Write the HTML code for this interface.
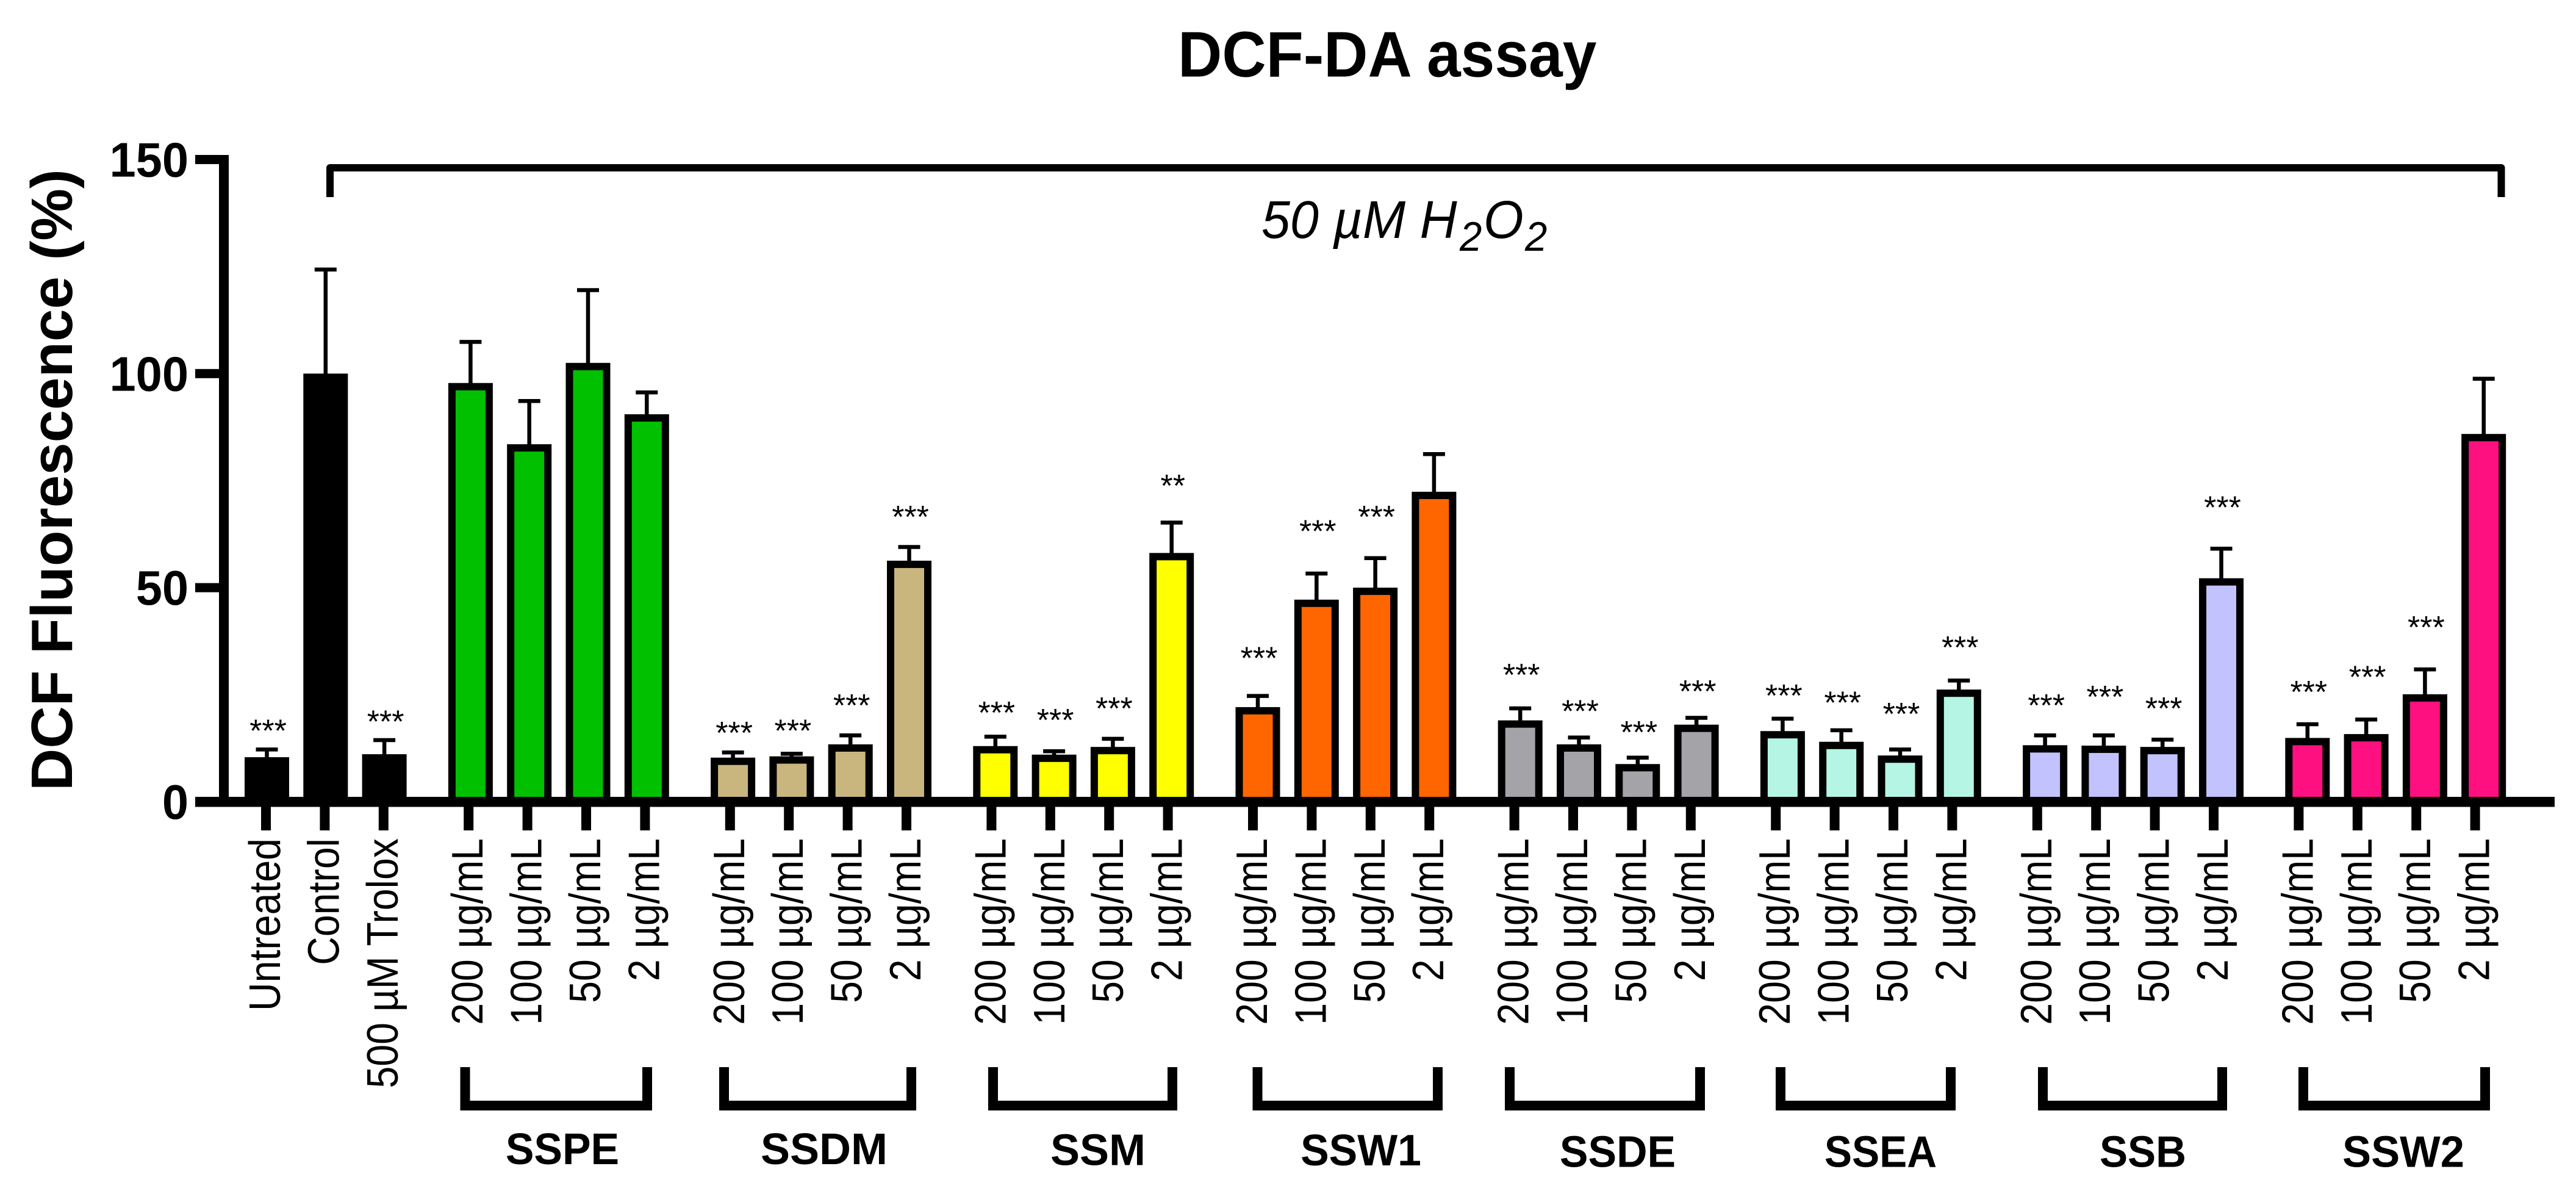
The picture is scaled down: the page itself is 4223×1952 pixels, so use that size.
<!DOCTYPE html>
<html lang="en">
<head>
<meta charset="utf-8">
<title>DCF-DA assay</title>
<style>
html,body{margin:0;padding:0;background:#fff;}
svg{display:block;}
text{font-family:"Liberation Sans",Arial,sans-serif;fill:#000;}
</style>
</head>
<body>
<svg id="chart" xmlns="http://www.w3.org/2000/svg" width="4223" height="1952" viewBox="0 0 4223 1952">
  <rect x="0" y="0" width="4223" height="1952" fill="#fff"/>
  <text transform="translate(1931,125.6) scale(.945,1)" font-size="106" font-weight="700">DCF-DA assay</text>
  <text transform="translate(118,1296) rotate(-90)" font-size="96" font-weight="700">DCF Fluorescence (%)</text>
  <path d="M541,323 V275 H4100.5 V323" fill="none" stroke="#000" stroke-width="12" stroke-linejoin="round"/>
  <g font-style="italic">
    <text transform="translate(2068,390) scale(.97,1)" font-size="87" font-style="italic">50 µM H</text>
    <text transform="translate(2393,411) scale(.96,1)" font-size="68" font-style="italic">2</text>
    <text transform="translate(2432,390) scale(.97,1)" font-size="87" font-style="italic">O</text>
    <text transform="translate(2500,411) scale(.96,1)" font-size="68" font-style="italic">2</text>
  </g>
  <g id="bars"></g>
  <g id="errors"></g>
  <g id="stars"></g>
  <g id="axes"></g>
  <g fill="none" stroke="#000" stroke-width="16">
    <path d="M762.5,1749 V1812 H1061 V1749"/>
    <path d="M1187,1749 V1812 H1494 V1749"/>
    <path d="M1628,1749 V1812 H1922 V1749"/>
    <path d="M2061.5,1749 V1812 H2357 V1749"/>
    <path d="M2475,1749 V1812 H2787 V1749"/>
    <path d="M2919,1749 V1812 H3198 V1749"/>
    <path d="M3349,1749 V1812 H3643 V1749"/>
    <path d="M3776,1749 V1812 H4074 V1749"/>
  </g>
  <g font-size="72" font-weight="700" text-anchor="middle">
    <text transform="translate(922,1908) scale(.97,1)">SSPE</text>
    <text transform="translate(1351,1908) scale(1,1)">SSDM</text>
    <text transform="translate(1800,1909.5) scale(1,1)">SSM</text>
    <text transform="translate(2231,1910) scale(.97,1)">SSW1</text>
    <text transform="translate(2652,1912.5) scale(.97,1)">SSDE</text>
    <text transform="translate(3083,1912.5) scale(.94,1)">SSEA</text>
    <text transform="translate(3513,1912.5) scale(.96,1)">SSB</text>
    <text transform="translate(3940,1912.5) scale(.98,1)">SSW2</text>
  </g>
</svg>
<script>
// ---- chart data ----
const categories = [
  "Untreated","Control","500 µM Trolox",
  "200 µg/mL","100 µg/mL","50 µg/mL","2 µg/mL",
  "200 µg/mL","100 µg/mL","50 µg/mL","2 µg/mL",
  "200 µg/mL","100 µg/mL","50 µg/mL","2 µg/mL",
  "200 µg/mL","100 µg/mL","50 µg/mL","2 µg/mL",
  "200 µg/mL","100 µg/mL","50 µg/mL","2 µg/mL",
  "200 µg/mL","100 µg/mL","50 µg/mL","2 µg/mL",
  "200 µg/mL","100 µg/mL","50 µg/mL","2 µg/mL",
  "200 µg/mL","100 µg/mL","50 µg/mL","2 µg/mL"
];
const groupOf = [0,0,0, 1,1,1,1, 2,2,2,2, 3,3,3,3, 4,4,4,4, 5,5,5,5, 6,6,6,6, 7,7,7,7, 8,8,8,8];
const values = [
  10.4,100,11.1,
  97.8,83.5,102.5,90.5,
  10.3,10.6,13.4,56.3,
  13,11,12.8,58.1,
  22.1,47.2,50,72.4,
  19,13.4,8.8,18,
  16.5,14,10.8,26.2,
  13.2,13.1,12.8,52.2,
  14.9,15.8,25.1,85.9
];
const errors = [
  1.8,24.3,3.3,
  9.6,10.1,17,5.1,
  1.2,0.6,2.1,3.2,
  2.2,0.8,1.9,7.1,
  2.6,6.1,6.9,8.8,
  2.8,1.6,1.5,1.6,
  2.9,2.7,1.4,2.1,
  2.3,2.4,1.7,6.9,
  3.2,3.4,5.8,12.9
];
const starMarks = [
  "***","","***",
  "","","","",
  "***","***","***","***",
  "***","***","***","**",
  "***","***","***","",
  "***","***","***","***",
  "***","***","***","***",
  "***","***","***","***",
  "***","***","***",""
];
const starLevels = [
  17.2,0,19.3,
  0,0,0,0,
  16.7,17.2,23.1,67.1,
  21.4,19.7,22.4,74.4,
  34.1,63.8,67.1,0,
  30.2,21.7,16.8,26.4,
  25.4,23.7,21.1,36.6,
  23.1,25.1,22.4,69.3,
  26.2,29.7,41.3,0
];
const yTickValues = [0,50,100,150];
const yTickLabels = ["0","50","100","150"];

// ---- styling ----
const palette = ["#000000","#00C000","#C8B67E","#FFFF00","#FF6600","#A3A3A8","#B4F5E4","#C2C2FF","#FF1080"];
const SVGNS = "http://www.w3.org/2000/svg";

// ---- axis functions ----
function yScale(v){ return 1314 - v * 7.017; }
function barCenter(i){ return 437.5 + i * 96.3 + groupOf[i] * 45; }
function tickCenter(i){ return 436 + i * 96.4 + groupOf[i] * 43; }

function make(tag, attrs, parent){
  const el = document.createElementNS(SVGNS, tag);
  for (const k in attrs) el.setAttribute(k, attrs[k]);
  parent.appendChild(el);
  return el;
}

const barsG = document.getElementById("bars");
const errorsG = document.getElementById("errors");
const starsG = document.getElementById("stars");
const axesG = document.getElementById("axes");

const BAR_W = 73, BORDER = 12, BASE = 1314;

values.forEach(function(v, i){
  const cx = barCenter(i);
  const top = yScale(v);
  const rect = make("rect", {
    x: cx - BAR_W / 2 + BORDER / 2,
    y: top + BORDER / 2,
    width: BAR_W - BORDER,
    height: Math.max(BASE - top - BORDER / 2, 0),
    fill: palette[groupOf[i]],
    stroke: "#000",
    "stroke-width": BORDER
  }, barsG);
  
  

  const capY = yScale(v + errors[i]);
  const stem = make("line", {x1: cx, x2: cx, y1: top + 2, y2: capY, stroke: "#000", "stroke-width": 6.5}, errorsG);
  
  
  const cap = make("line", {x1: cx - 18, x2: cx + 18, y1: capY, y2: capY, stroke: "#000", "stroke-width": 6.5}, errorsG);
  
  

  if (starMarks[i]) {
    const s = make("text", {x: cx + 2, y: yScale(starLevels[i]) + 22, "font-size": 52, "text-anchor": "middle"}, starsG);
    s.textContent = starMarks[i];
    
    
  }
});

// Y axis
const yLine = make("rect", {x: 359, y: 254, width: 16, height: 1068, fill: "#000"}, axesG);


yTickValues.forEach(function(v, i){
  const y = yScale(v);
  if (v !== 0) {
    const t = make("rect", {x: 320, y: y - 7.5, width: 39, height: 15, fill: "#000"}, axesG);
    
    
  }
  const lab = make("text", {transform: "translate(309," + (y + 28) + ") scale(.97,1)", "font-size": 80, "font-weight": 700, "text-anchor": "end"}, axesG);
  lab.textContent = yTickLabels[i];
  
  
});

// X axis
const xLine = make("rect", {x: 320, y: 1306, width: 3868, height: 16.5, fill: "#000"}, axesG);


categories.forEach(function(c, i){
  const x = tickCenter(i);
  const t = make("rect", {x: x - 8, y: 1322, width: 16, height: 39, fill: "#000"}, axesG);
  
  
  const lab = make("text", {transform: "translate(" + (x + 23) + ",1374) rotate(-90) scale(.895,1)", "font-size": 72, "text-anchor": "end"}, axesG);
  lab.textContent = c;
  
  
});
</script>
</body>
</html>
